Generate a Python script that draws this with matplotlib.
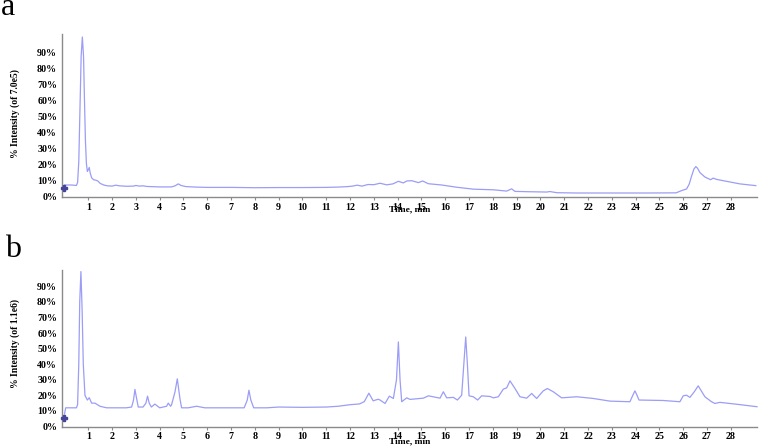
import matplotlib
matplotlib.use("Agg")
import matplotlib.pyplot as plt
from matplotlib.ticker import FixedLocator, FuncFormatter

# ---- data (time in min, intensity in %) ----
time_a = [0, 0.3, 0.5, 0.55, 0.6, 0.65, 0.7, 0.75, 0.8, 0.84, 0.88, 0.92, 0.96, 1.0, 1.04,
          1.08, 1.14, 1.22, 1.32, 1.4, 1.5, 1.65, 1.8, 2.0, 2.15, 2.3, 2.6, 2.9, 3.0, 3.15, 3.3,
          3.45, 3.6, 4.0, 4.5, 4.65, 4.78, 4.9, 5.1, 5.5, 6, 7, 8, 9, 10, 11, 11.5, 11.9, 12.1,
          12.3, 12.5, 12.75, 13.0, 13.26, 13.54, 13.8, 14.03, 14.24, 14.38, 14.59, 14.87, 15.05,
          15.29, 15.85, 16.48, 17.18, 18.02, 18.58, 18.79, 18.93, 19.5, 20.26, 20.4, 20.68, 21.5,
          23, 24.5, 25.7, 25.93, 26.14, 26.25, 26.35, 26.45, 26.53, 26.6, 26.7, 26.91, 27.15,
          27.26, 27.4, 27.82, 28.38, 29.05]
int_a = [7.5, 7.5, 7.2, 9, 22, 55, 88, 100, 88, 60, 35, 21, 16, 17, 18.5,
         15, 12, 10.8, 10.5, 10, 8.5, 7.5, 7, 6.8, 7.4, 7, 6.7, 6.8, 7.2, 6.8, 7,
         6.6, 6.5, 6.3, 6.3, 7, 8.2, 7.2, 6.5, 6.2, 6.0, 6.0, 5.8, 5.9, 5.9, 6.0, 6.2, 6.5, 6.8,
         7.4, 6.8, 7.8, 7.7, 8.6, 7.6, 8.2, 9.8, 8.8, 10, 10.2, 9, 10,
         8.3, 7.5, 6.1, 4.9, 4.5, 3.7, 5.1, 3.5, 3.3, 3.1, 3.4, 2.7, 2.5,
         2.5, 2.5, 2.6, 4, 5, 8, 13, 17.5, 19, 18, 15.3, 12.5, 10.8,
         11.8, 11, 9.8, 8.2, 7.1]

time_b = [0, 0.05, 0.3, 0.5, 0.55, 0.6, 0.64, 0.69, 0.74, 0.79, 0.86, 0.96, 1.04, 1.14, 1.28,
          1.49, 1.77, 2.2, 2.6, 2.82, 2.9, 2.96, 3.03, 3.1, 3.3, 3.42, 3.49, 3.56, 3.65, 3.8,
          4.0, 4.29, 4.36, 4.46, 4.5, 4.64, 4.74, 4.85, 4.92, 5.2, 5.55, 5.9, 6.5, 7.0, 7.55,
          7.68, 7.75, 7.83, 7.95, 8.5, 9.0, 10.0, 11.0, 11.5, 12.0, 12.4, 12.6, 12.79, 12.97,
          13.18, 13.26, 13.47, 13.65, 13.82, 13.95, 14.03, 14.1, 14.17, 14.38, 14.52, 15.08,
          15.29, 15.78, 15.92, 16.06, 16.34, 16.51, 16.69, 16.78, 16.86, 16.93, 17.0, 17.18,
          17.36, 17.53, 17.88, 18.02, 18.23, 18.44, 18.58, 18.72, 18.93, 19.14, 19.42, 19.63,
          19.84, 20.12, 20.29, 20.54, 20.89, 21.52, 22.22, 22.92, 23.76, 23.88, 23.97, 24.06,
          24.14, 25.16, 25.86, 26.0, 26.14, 26.28, 26.45, 26.63, 26.91, 27.19, 27.33, 27.54,
          28.3, 29.1]
int_b = [8, 12, 12, 12, 14, 40, 80, 99.5, 75, 40, 20, 17, 18.5, 15, 15,
         13, 12, 12, 12, 12.5, 17, 23.8, 18, 12.5, 12.5, 15, 19.5, 15, 12.5, 14.4,
         12, 13, 15, 13, 14, 22, 30.6, 18, 12, 12, 13, 12, 12, 12, 12,
         17, 23.3, 17, 12, 12, 12.5, 12.3, 12.5, 13, 14, 14.5, 16, 21.4, 16.5,
         17.5, 17, 14.8, 19.5, 18, 30, 54.3, 30, 15.9, 18.4, 17.4, 18.2,
         19.7, 18.2, 22.3, 18.4, 18.7, 17, 20.1, 40, 57.5, 40, 19.7, 19.1,
         17, 19.7, 19.3, 18.4, 19.1, 24, 24.8, 29.3, 24.4, 19.1, 18.2, 21.2,
         18, 22.9, 24.4, 22.3, 18.4, 19.1, 18, 16.3, 15.9, 20, 22.9, 20,
         17, 16.7, 15.9, 19.7, 20.1, 18.7, 22, 26.1, 19.1, 15.9, 14.8, 15.5,
         14.2, 12.7]

ylabel_a = "% Intensity (of 7.0e5)"
ylabel_b = "% Intensity (of 1.1e6)"
xticks = list(range(1, 29))
yticks = list(range(0, 100, 10))
marker_y = [5.6, 5.4]

LINE = "#9b9df6"
AXC = "#8a8a8a"
SERIF = ["Liberation Serif", "DejaVu Serif"]
TICK_FS = 7.2

fig = plt.figure(figsize=(7.6, 4.47), dpi=100)
W, H = 760.0, 447.0

def make_ax(bottom_px, top_px, ymax):
    ax = fig.add_axes([62 / W, 1 - bottom_px / H, 695 / W, (bottom_px - top_px) / H])
    ax.set_xlim(-0.105, 29.1)
    ax.set_ylim(0, ymax)
    for s in ("top", "right"):
        ax.spines[s].set_visible(False)
    for s in ("left", "bottom"):
        ax.spines[s].set_color(AXC)
        ax.spines[s].set_linewidth(1.0)
    ax.xaxis.set_major_locator(FixedLocator(xticks))
    ax.yaxis.set_major_locator(FixedLocator(yticks))
    ax.yaxis.set_major_formatter(FuncFormatter(lambda v, p: f"{int(round(v))}%"))
    ax.tick_params(axis="x", length=2.5, width=0.8, color=AXC, pad=1.5)
    ax.tick_params(axis="y", length=0, pad=3.5)
    for lab in ax.get_xticklabels() + ax.get_yticklabels():
        lab.set_fontfamily(SERIF)
        lab.set_fontweight("bold")
        lab.set_fontsize(TICK_FS)
    return ax

ax1 = make_ax(197, 33.8, 102)
ax2 = make_ax(426.5, 270, 100.5)

ax1.plot(time_a, int_a, color=LINE, lw=0.9, clip_on=False)
ax2.plot(time_b, int_b, color=LINE, lw=0.9, clip_on=False)

for ax, my, off in ((ax1, marker_y[0], -8.8), (ax2, marker_y[1], -10.6)):
    ax.plot([0], [my], marker="P", color="#45459a", markersize=5, clip_on=False, zorder=5)
    ax.annotate("Time, min", xy=(14.5, 0), xycoords=("data", "axes fraction"),
                xytext=(0, off), textcoords="offset points", ha="center", va="center",
                fontsize=6.8, fontweight="bold", family=SERIF)

fig.text(15 / W, 1 - 114 / H, ylabel_a, rotation=90, ha="center", va="center",
         fontsize=6.9, fontweight="bold", family=SERIF)
fig.text(15 / W, 1 - 343.5 / H, ylabel_b, rotation=90, ha="center", va="center",
         fontsize=6.9, fontweight="bold", family=SERIF)

fig.text(1 / W, 1 - 15 / H, "a", ha="left", va="baseline", fontsize=23, family=SERIF)
fig.text(5 / W, 1 - 257 / H, "b", ha="left", va="baseline", fontsize=23, family=SERIF)

fig.savefig("out.png", dpi=100)
